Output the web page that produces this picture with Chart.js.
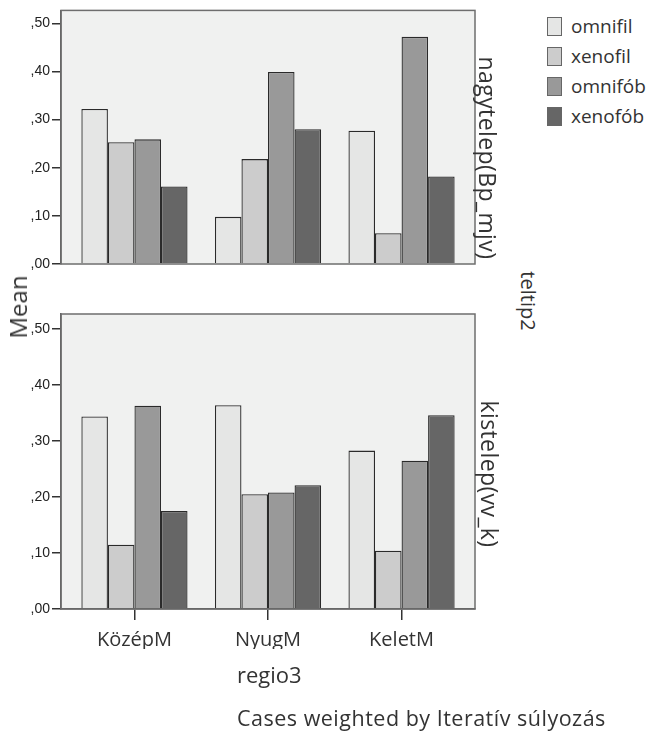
<!DOCTYPE html>
<html>
<head>
<meta charset="utf-8">
<script src="https://cdn.jsdelivr.net/npm/chart.js@4.4.1/dist/chart.umd.min.js"></script>
<style>
  html, body { margin: 0; padding: 0; background: #ffffff; }
  body { width: 653px; height: 731px; position: relative; overflow: hidden; font-family: "Open Sans", sans-serif; color: #333; }
  canvas { position: absolute; }
  .txt { position: absolute; white-space: nowrap; font-family: "Open Sans", sans-serif; color: #333; line-height: 1; }
  .rot { transform: translate(-50%, -50%) rotate(90deg); }
  .rotl { transform: translate(-50%, -50%) rotate(-90deg); }
  .leg { position: absolute; left: 547px; display: flex; align-items: center; }
  .leg span.box { width: 15px; height: 19px; border: 1.5px solid #666; box-sizing: border-box; margin-right: 9px; }
  .leg span.lab { font-size: 19px; color: #333; }
</style>
</head>
<body>
<canvas id="top" width="476" height="320" style="left:0;top:0;"></canvas>
<canvas id="bot" width="476" height="431" style="left:0;top:300px;"></canvas>

<div class="txt rotl" style="left:18px;top:307px;font-size:24px;">Mean</div>
<div class="txt rot" style="left:487px;top:158px;font-size:23px;letter-spacing:0.4px;">nagytelep(Bp_mjv)</div>
<div class="txt rot" style="left:489px;top:474px;font-size:23px;letter-spacing:0.4px;">kistelep(vv_k)</div>
<div class="txt rot" style="left:528px;top:301px;font-size:20px;">teltip2</div>
<div class="txt" style="left:237px;top:663px;font-size:22px;">regio3</div>
<div class="txt" style="left:237px;top:707px;font-size:21.5px;letter-spacing:0.5px;">Cases weighted by Iteratív súlyozás</div>
<div id="legend"></div>

<script>
// ---- data ----
const categories = ['KözépM', 'NyugM', 'KeletM'];
const seriesNames = ['omnifil', 'xenofil', 'omnifób', 'xenofób'];
const seriesColors = ['#e5e6e5', '#cccccc', '#999999', '#666666'];

// panel: nagytelep(Bp_mjv)
const nagyOmnifil = [0.322, 0.098, 0.277];
const nagyXenofil = [0.253, 0.218, 0.064];
const nagyOmnifob = [0.259, 0.399, 0.472];
const nagyXenofob = [0.161, 0.280, 0.182];

// panel: kistelep(vv_k)
const kisOmnifil = [0.344, 0.364, 0.283];
const kisXenofil = [0.115, 0.205, 0.104];
const kisOmnifob = [0.363, 0.208, 0.265];
const kisXenofob = [0.175, 0.221, 0.346];

const yTickValues = [0, 0.1, 0.2, 0.3, 0.4, 0.5];
const yTickLabels = [',00', ',10', ',20', ',30', ',40', ',50'];

// ---- legend ----
const legendEl = document.getElementById('legend');
seriesNames.forEach((n, i) => {
  const d = document.createElement('div');
  d.className = 'leg';
  d.style.top = (13 + i * 30) + 'px';
  d.innerHTML = '<span class="box" style="background:' + seriesColors[i] + '"></span><span class="lab">' + n + '</span>';
  legendEl.appendChild(d);
});

// ---- charts ----
const panelPlugin = {
  id: 'panel',
  beforeDraw(chart) {
    const { ctx, chartArea: a } = chart;
    ctx.save();
    ctx.fillStyle = '#f0f1f0';
    ctx.fillRect(a.left, a.top, a.right - a.left, a.bottom - a.top);
    ctx.restore();
  },
  afterDraw(chart) {
    const { ctx, chartArea: a } = chart;
    ctx.save();
    ctx.strokeStyle = '#6e6e6e';
    ctx.lineWidth = 1.5;
    ctx.strokeRect(a.left, a.top, a.right - a.left, a.bottom - a.top);
    ctx.restore();
  }
};

function makeDatasets(arrs) {
  return arrs.map((arr, i) => ({
    label: seriesNames[i],
    data: arr.map((v, j) => ({ x: j, y: v })),
    backgroundColor: seriesColors[i],
    borderColor: '#2a2a2a',
    borderWidth: 1.3,
    borderSkipped: 'bottom',
    categoryPercentage: 0.795,
    barPercentage: 1.0
  }));
}

function makeChart(id, arrs, showX, pad) {
  return new Chart(document.getElementById(id), {
    type: 'bar',
    data: { datasets: makeDatasets(arrs) },
    plugins: [panelPlugin],
    options: {
      responsive: false,
      animation: false,
      devicePixelRatio: 1,
      layout: { padding: pad },
      plugins: { legend: { display: false }, tooltip: { enabled: false } },
      scales: {
        x: {
          type: 'linear',
          min: -0.55,
          max: 2.55,
          offset: false,
          display: showX,
          afterBuildTicks: s => { s.ticks = categories.map((c, i) => ({ value: i })); },
          afterFit: s => { s.height = 40; },
          ticks: {
            callback: v => categories[v],
            font: { family: 'Open Sans', size: 20 },
            color: '#333',
            padding: 8,
            autoSkip: false,
            maxRotation: 0
          },
          grid: { offset: false, drawOnChartArea: false, drawTicks: true, tickLength: 11, color: '#333', lineWidth: 1.5 },
          border: { display: true, color: '#555', width: 1.5 }
        },
        y: {
          min: 0,
          max: 0.527,
          afterFit: s => { s.width = 61; },
          afterBuildTicks: s => { s.ticks = yTickValues.map(v => ({ value: v })); },
          ticks: {
            callback: (v) => yTickLabels[yTickValues.findIndex(t => Math.abs(t - v) < 1e-9)],
            font: { family: '"Liberation Sans Narrow", "Liberation Sans", Arial', size: 14 },
            color: '#222',
            padding: 2
          },
          grid: { drawOnChartArea: false, drawTicks: true, tickLength: 9, color: '#333', lineWidth: 1.5 },
          border: { display: true, color: '#555', width: 1.5 }
        }
      }
    }
  });
}

makeChart('top', [nagyOmnifil, nagyXenofil, nagyOmnifob, nagyXenofob], false, { top: 9, bottom: 16, right: 1, left: 0 });
makeChart('bot', [kisOmnifil, kisXenofil, kisOmnifob, kisXenofob], true, { top: 14, bottom: 82, right: 1, left: 0 });
</script>
</body>
</html>
